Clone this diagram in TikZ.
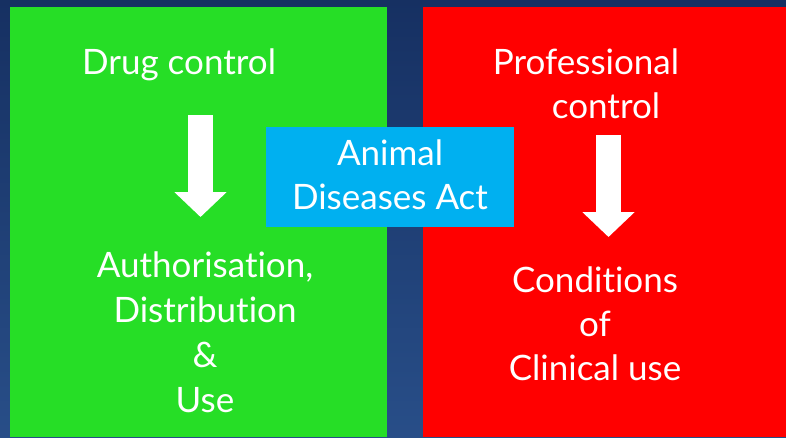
\documentclass[tikz,border=0pt]{standalone}
\usepackage{fontspec}
\setmainfont{Lato}[Ligatures=NoCommon]
\usetikzlibrary{arrows.meta}
\definecolor{drugG}{RGB}{38,222,38}
\definecolor{profR}{RGB}{255,0,0}
\definecolor{actB}{RGB}{0,176,240}
\definecolor{bgTop}{RGB}{22,48,98}
\definecolor{bgBot}{RGB}{40,78,136}
\begin{document}
\begin{tikzpicture}[x=1pt,y=-1pt,panel/.style={inner sep=0pt,anchor=north west},lbl/.style={text=white,inner sep=0pt,align=center,anchor=north,font=\fontsize{35}{44}\selectfont},bigarrow/.style={white,line width=25pt,-{Triangle[length=25pt,width=51pt]}}]
\def\ptop{7};

\useasboundingbox (0,0) rectangle (786,437);
\shade[top color=bgTop,bottom color=bgBot] (0,0) rectangle (786,437);

\node[panel,fill=drugG,minimum width=377pt,minimum height=430pt] (drug) at (10,\ptop) {};
\node[panel,fill=profR,minimum width=363pt,minimum height=430pt] (prof) at (423,\ptop) {};
\node[panel,fill=actB,minimum width=248pt,minimum height=100pt] (act) at (266,127) {};

\node[lbl] (drugT) at (179,49) {Drug control};
\node[lbl] (profT) at (586,49) {Professional\\\hspace*{40pt}control};
\node[lbl] (actT) at (390,140) {Animal\\Diseases Act};
\node[lbl,font=\fontsize{35}{45}\selectfont] (useT) at (205,252) {Authorisation,\\Distribution\\\&\\Use};
\node[lbl] (clinT) at (595,267) {Conditions\\of\\Clinical use};

\coordinate (dA) at (200.5,115);
\coordinate (dB) at (200.5,217);
\draw[bigarrow] (dA) -- (dB);
\coordinate (pA) at (608.5,135);
\coordinate (pB) at (608.5,237);
\draw[bigarrow] (pA) -- (pB);
\end{tikzpicture}
\end{document}
